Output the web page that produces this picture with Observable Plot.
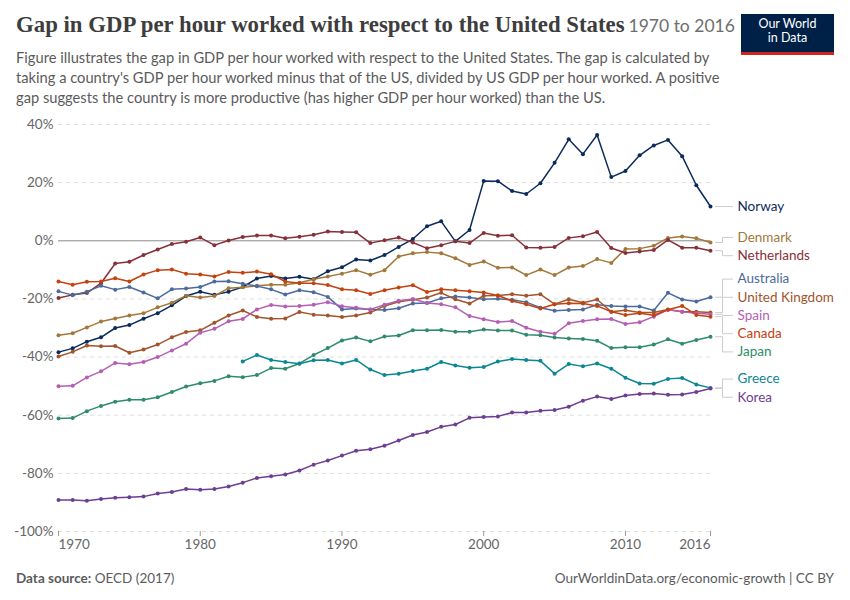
<!DOCTYPE html>
<html>
<head>
<meta charset="utf-8">
<script src="https://cdn.jsdelivr.net/npm/d3@7"></script>
<script src="https://cdn.jsdelivr.net/npm/@observablehq/plot@0.6"></script>
<style>
  body { margin: 0; background: #fff; font-family: Lato, "Noto Sans", sans-serif; }
  #wrap { position: relative; width: 850px; height: 600px; overflow: hidden; }
  #title { position: absolute; left: 16px; top: 9px; line-height: 32px; white-space: nowrap; }
  #title .main { font-family: "Liberation Serif", serif; font-weight: bold; font-size: 22.8px; color: #3d3d3d; }
  #title .sub { font-size: 17.5px; color: #6e6e6e; margin-left: 4px; }
  #desc { position: absolute; left: 16px; top: 47px; font-size: 14.7px; line-height: 20px; color: #5b5b5b; white-space: nowrap; }
  #logo { position: absolute; left: 741px; top: 14px; width: 93px; height: 35px; background: #002147; border-bottom: 3px solid #ce261e; color: #fff; font-size: 12.5px; line-height: 14px; text-align: center; padding-top: 3px; box-sizing: content-box; }
  #chart { position: absolute; left: 0; top: 108px; }
  #footer { position: absolute; left: 16px; right: 16px; top: 568px; line-height: 20px; font-size: 13.5px; color: #5b5b5b; }
  #footer .l { position: absolute; left: 0; }
  #footer .r { position: absolute; right: 0; }
</style>
</head>
<body>
<div id="wrap">
  <div id="title"><span class="main">Gap in GDP per hour worked with respect to the United States</span><span class="sub">1970 to 2016</span></div>
  <div id="desc">Figure illustrates the gap in GDP per hour worked with respect to the United States. The gap is calculated by<br>taking a country's GDP per hour worked minus that of the US, divided by US GDP per hour worked. A positive<br>gap suggests the country is more productive (has higher GDP per hour worked) than the US.</div>
  <div id="logo">Our World<br>in Data</div>
  <div id="chart"></div>
  <div id="footer"><span class="l"><b>Data source:</b> OECD (2017)</span><span class="r">OurWorldinData.org/economic-growth | CC BY</span></div>
</div>
<script>
const years = d3.range(1970, 2017);
const countries = ["Norway", "Denmark", "Netherlands", "Australia", "United Kingdom", "Spain", "Canada", "Japan", "Greece", "Korea"];
const colors = ["#0b2b5c", "#a2783a", "#883039", "#4c6a9c", "#a2552c", "#b45fb3", "#c4420f", "#2e8b6b", "#0b8793", "#6d3e91"];
const yTicks = [-100, -80, -60, -40, -20, 0, 20, 40];
const xTicksMid = [1980, 1990, 2000, 2010];

const norway = [-38.3,-37.0,-34.7,-33.2,-30.0,-29.0,-26.8,-24.9,-22.2,-19.0,
  -17.5,-18.6,-17.5,-15.9,-13.0,-12.1,-13.0,-12.4,-13.2,-10.5,
  -9.1,-6.4,-6.8,-4.9,-2.1,0.6,5.0,6.7,-0.2,3.7,
  20.6,20.5,17.1,16.1,19.8,26.8,34.9,29.8,36.4,21.9,
  24.0,29.4,32.8,34.7,29.1,19.1,11.8];
const denmark = [-32.5,-31.8,-29.8,-27.8,-26.7,-25.7,-24.9,-22.9,-21.3,-18.9,
  -19.5,-19.0,-16.3,-16.0,-15.5,-15.1,-15.1,-14.4,-13.2,-12.3,
  -11.3,-10.1,-11.7,-10.1,-5.4,-4.3,-3.9,-4.3,-6.0,-8.3,
  -7.1,-9.3,-9.2,-11.8,-9.9,-11.8,-9.2,-8.7,-6.3,-7.6,
  -2.8,-2.7,-1.7,1.0,1.5,0.9,-0.6];
const netherlands = [-19.7,-18.6,-18.0,-14.6,-7.8,-7.2,-4.9,-3.0,-1.1,-0.3,
  1.1,-1.5,0.1,1.3,1.8,1.8,0.9,1.4,2.1,3.2,
  3.0,2.9,-0.8,0.2,1.1,-0.6,-2.6,-1.5,-0.2,-0.8,
  2.7,1.7,1.9,-2.3,-2.4,-2.1,1.0,1.6,3.0,-2.5,
  -4.2,-3.7,-3.2,0.3,-2.4,-2.4,-3.4];
const australia = [-17.4,-18.7,-17.5,-15.5,-16.8,-15.9,-17.8,-19.8,-16.7,-16.4,
  -15.9,-14.0,-13.9,-14.8,-15.6,-16.7,-18.5,-17.0,-17.7,-19.3,
  -23.6,-23.3,-23.6,-23.8,-23.2,-21.6,-21.4,-19.8,-19.2,-19.5,
  -20.1,-19.9,-20.3,-21.1,-23.0,-24.1,-23.8,-23.6,-22.0,-22.4,
  -22.6,-22.6,-24.0,-17.9,-20.2,-20.9,-19.4];
const unitedKingdom = [-39.8,-38.2,-36.0,-36.3,-36.2,-38.5,-37.4,-35.7,-33.2,-31.4,
  -30.8,-28.2,-25.7,-24.0,-26.2,-26.8,-26.7,-24.5,-25.4,-25.7,
  -26.2,-25.7,-24.7,-22.4,-21.0,-20.3,-19.5,-17.9,-20.1,-21.6,
  -18.9,-18.8,-18.4,-18.9,-18.4,-21.8,-20.1,-21.3,-20.2,-24.4,
  -23.9,-24.7,-24.7,-23.6,-24.4,-24.4,-24.7];
const spain = [-50.0,-49.9,-47.0,-44.9,-42.0,-42.5,-41.7,-40.0,-37.7,-35.4,
  -31.6,-30.3,-27.7,-26.9,-23.6,-22.1,-22.6,-22.4,-22.0,-21.1,
  -22.5,-23.0,-23.6,-22.0,-20.6,-20.0,-21.4,-21.8,-22.9,-25.9,
  -27.0,-27.9,-27.6,-29.9,-31.3,-32.0,-28.4,-27.6,-27.0,-26.9,
  -28.6,-28.0,-26.1,-23.7,-24.4,-24.9,-25.3];
const canada = [-14.0,-15.1,-14.1,-14.0,-12.9,-14.0,-11.6,-10.1,-9.9,-11.3,
  -11.6,-12.3,-10.7,-11.0,-10.6,-11.5,-14.0,-14.6,-14.6,-15.2,
  -16.7,-17.0,-18.3,-17.0,-16.1,-15.3,-17.6,-16.7,-17.0,-17.4,
  -17.8,-18.8,-20.7,-21.8,-23.3,-21.8,-21.5,-21.6,-22.4,-24.4,
  -25.5,-24.9,-25.6,-23.7,-22.4,-25.5,-26.1];
const japan = [-61.1,-61.0,-58.6,-56.8,-55.4,-54.7,-54.7,-53.8,-52.0,-50.1,
  -49.0,-48.2,-46.6,-46.9,-46.2,-43.8,-44.0,-42.2,-39.3,-36.9,
  -34.3,-33.3,-34.6,-32.9,-32.6,-30.8,-30.8,-30.7,-31.3,-31.3,
  -30.5,-30.9,-30.9,-32.3,-32.5,-33.3,-33.6,-33.8,-34.4,-36.9,
  -36.6,-36.6,-35.7,-33.9,-35.4,-34.1,-33.0];
const greece = [null,null,null,null,null,null,null,null,null,null,
  null,null,null,-41.5,-39.3,-41.0,-41.7,-42.3,-41.1,-41.0,
  -42.2,-41.0,-44.3,-46.2,-45.7,-44.8,-44.0,-41.7,-42.9,-43.7,
  -43.4,-41.5,-40.7,-41.0,-41.3,-45.7,-42.4,-43.2,-42.2,-44.0,
  -47.1,-49.1,-49.2,-47.5,-47.2,-49.4,-50.6];
const korea = [-89.2,-89.2,-89.4,-88.8,-88.4,-88.2,-88.0,-86.9,-86.4,-85.4,
  -85.6,-85.4,-84.5,-83.2,-81.6,-81.0,-80.4,-79.0,-77.0,-75.6,
  -73.9,-72.2,-71.7,-70.5,-68.7,-66.8,-65.8,-64.0,-63.2,-60.9,
  -60.6,-60.4,-59.1,-59.1,-58.5,-58.2,-57.1,-55.0,-53.6,-54.4,
  -53.2,-52.7,-52.5,-53.0,-52.9,-52.0,-50.8];

const seriesValues = [norway, denmark, netherlands, australia, unitedKingdom, spain, canada, japan, greece, korea];

const data = [];
countries.forEach((c, ci) => {
  seriesValues[ci].forEach((v, i) => { if (v != null) data.push({country: c, year: years[i], value: v}); });
});

// layout
const W = 850, H = 450, mL = 58, mR = 140, mT = 16, mB = 27;
const yMin = -100, yMax = 40, xMin = 1970, xMax = 2016;
const pxPerYear = (W - mL - mR) / (xMax - xMin);
const pxPerUnit = (H - mT - mB) / (yMax - yMin);

// end labels with simple collision avoidance
const ends = countries.map((c, ci) => {
  const vals = seriesValues[ci];
  return {country: c, value: vals[vals.length - 1]};
}).sort((a, b) => b.value - a.value);
const gap = 18.2 / pxPerUnit;
let groups = ends.map(d => ({members: [d], pos: d.value}));
let changed = true;
while (changed) {
  changed = false;
  for (let i = 0; i < groups.length - 1; i++) {
    const a = groups[i], b = groups[i + 1];
    const aBottom = a.pos - (a.members.length - 1) * gap / 2;
    const bTop = b.pos + (b.members.length - 1) * gap / 2;
    if (aBottom - bTop < gap) {
      const members = a.members.concat(b.members);
      groups.splice(i, 2, {members, pos: d3.mean(members, d => d.value)});
      changed = true;
      break;
    }
  }
}
groups.forEach(g => g.members.forEach((d, k) => { d.labelY = g.pos + ((g.members.length - 1) / 2 - k) * gap; }));

const x0 = xMax + 5 / pxPerYear, xElbow = xMax + 12 / pxPerYear, x1 = xMax + 22 / pxPerYear;
const connectors = [];
ends.forEach(d => {
  connectors.push({country: d.country, x: x0, y: d.value});
  connectors.push({country: d.country, x: xElbow, y: d.value});
  connectors.push({country: d.country, x: xElbow, y: d.labelY});
  connectors.push({country: d.country, x: x1, y: d.labelY});
});

const chart = Plot.plot({
  width: W, height: H,
  marginLeft: mL, marginRight: mR, marginTop: mT, marginBottom: mB,
  style: {fontFamily: "Lato, sans-serif", fontSize: "13.5px", color: "#666", background: "transparent"},
  x: {domain: [xMin, xMax], label: null},
  y: {domain: [yMin, yMax], label: null},
  color: {domain: countries, range: colors},
  marks: [
    Plot.ruleY(yTicks.filter(t => t !== 0), {stroke: "#dddddd", strokeDasharray: "4,4", strokeWidth: 1}),
    Plot.ruleY([0], {stroke: "#8c8c8c", strokeWidth: 1}),
    Plot.axisY({ticks: yTicks, tickSize: 0, tickPadding: 5, tickFormat: d => d + "%", fill: "#666"}),
    Plot.axisX({ticks: xTicksMid, tickSize: 5, tickPadding: 3, tickFormat: d => String(d), stroke: "#999", fill: "#666", label: null}),
    Plot.axisX({ticks: [xMin], tickSize: 5, tickPadding: 3, tickFormat: d => String(d), stroke: "#999", fill: "#666", textAnchor: "start", label: null}),
    Plot.axisX({ticks: [xMax], tickSize: 5, tickPadding: 3, tickFormat: d => String(d), stroke: "#999", fill: "#666", textAnchor: "end", label: null}),
    Plot.line(connectors, {x: "x", y: "y", z: "country", stroke: "#cccccc", strokeWidth: 1}),
    Plot.line(data, {x: "year", y: "value", z: "country", stroke: "country", strokeWidth: 1.5}),
    Plot.dot(data, {x: "year", y: "value", fill: "country", r: 2}),
    Plot.text(ends, {x: xMax, y: "labelY", text: "country", fill: "country", textAnchor: "start", dx: 27, fontSize: 13.5})
  ]
});
document.getElementById("chart").appendChild(chart);
</script>
</body>
</html>
